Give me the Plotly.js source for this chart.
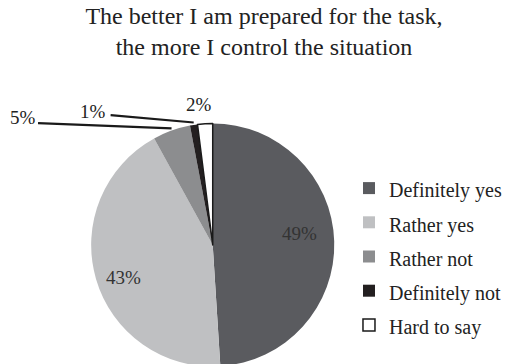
<!DOCTYPE html>
<html><head><meta charset="utf-8">
<script src="https://cdn.plot.ly/plotly-3.0.1.min.js"></script>
<style>html,body{margin:0;padding:0;overflow:hidden;background:#fff}#c{width:507px;height:372px}</style>
</head><body><div id="c"></div>
<script>
const categories = ["Definitely yes", "Rather yes", "Rather not", "Definitely not", "Hard to say"];
const values = [49, 43, 5, 1, 2];
const colors = ["#5a5b5f", "#bfc0c2", "#8c8d8f", "#231f20", "#ffffff"];
const titleText = "The better I am prepared for the task,<br>the more I control the situation";

const W = 507, H = 372;
const cxPx = 217, cyPx = 245, R = 124;
const dom = {x: [(cxPx - R) / W, (cxPx + R) / W], y: [1 - (cyPx + R) / H, 1 - (cyPx - R) / H]};
const total = values.reduce((a, b) => a + b, 0);
const P = (x, y) => ({x: x / W, y: 1 - y / H});

// label placement (pixels, relative to page) for each slice's value label
const labelPos = [[306, 233], [126, 277], [23.5, 118], [95, 111.5], [203.5, 105]];
// leader-line tails for the small slices (pixels); null = no line
const lineTail = [null, null, [40, 123], [113, 115], null];

const annotations = [];
let cum = 0;
values.forEach((v, i) => {
  const mid = (cum + v / 2) / total * 2 * Math.PI; cum += v;
  const lp = P(labelPos[i][0], labelPos[i][1]);
  annotations.push({
    xref: "paper", yref: "paper", x: lp.x, y: lp.y,
    xanchor: "center", yanchor: "middle",
    text: v + "%", showarrow: false,
    font: {family: "Liberation Serif", size: 19, color: i < 2 ? "#333" : "#222"}
  });
  if (lineTail[i]) {
    const hx = cxPx + R * Math.sin(mid), hy = cyPx - R * Math.cos(mid);
    const hp = P(hx, hy);
    annotations.push({
      xref: "paper", yref: "paper", x: hp.x, y: hp.y,
      text: "", showarrow: true, arrowhead: 0, arrowwidth: 2.2, arrowcolor: "#1a1a1a",
      ax: lineTail[i][0] - hx, ay: lineTail[i][1] - hy,
      font: {size: 1}
    });
  }
});

const legendLabels = categories.map(c => '<span style="font-size:20px">' + c + '</span>');

Plotly.newPlot("c", [{
  type: "pie",
  labels: legendLabels,
  values: values,
  textinfo: "none",
  sort: false,
  direction: "clockwise",
  rotation: 0,
  domain: dom,
  marker: {colors: colors, line: {color: "#1a1a1a", width: [0, 0, 0, 0, 1.5]}},
  hoverinfo: "none"
}], {
  width: W, height: H,
  margin: {l: 0, r: 0, t: 0, b: 0},
  paper_bgcolor: "#fff",
  title: {text: titleText, x: 264 / W, xanchor: "center", y: 0.935, yanchor: "top", yref: "container",
          font: {family: "Liberation Serif", size: 24, color: "#222"}},
  showlegend: true,
  legend: {x: 356 / W, y: 1 - 166 / H, xanchor: "left", yanchor: "top",
           font: {family: "Liberation Serif", size: 24, color: "#222"},
           itemwidth: 30, tracegroupgap: 0},
  annotations: annotations
}, {displayModeBar: false, staticPlot: true});
</script></body></html>
